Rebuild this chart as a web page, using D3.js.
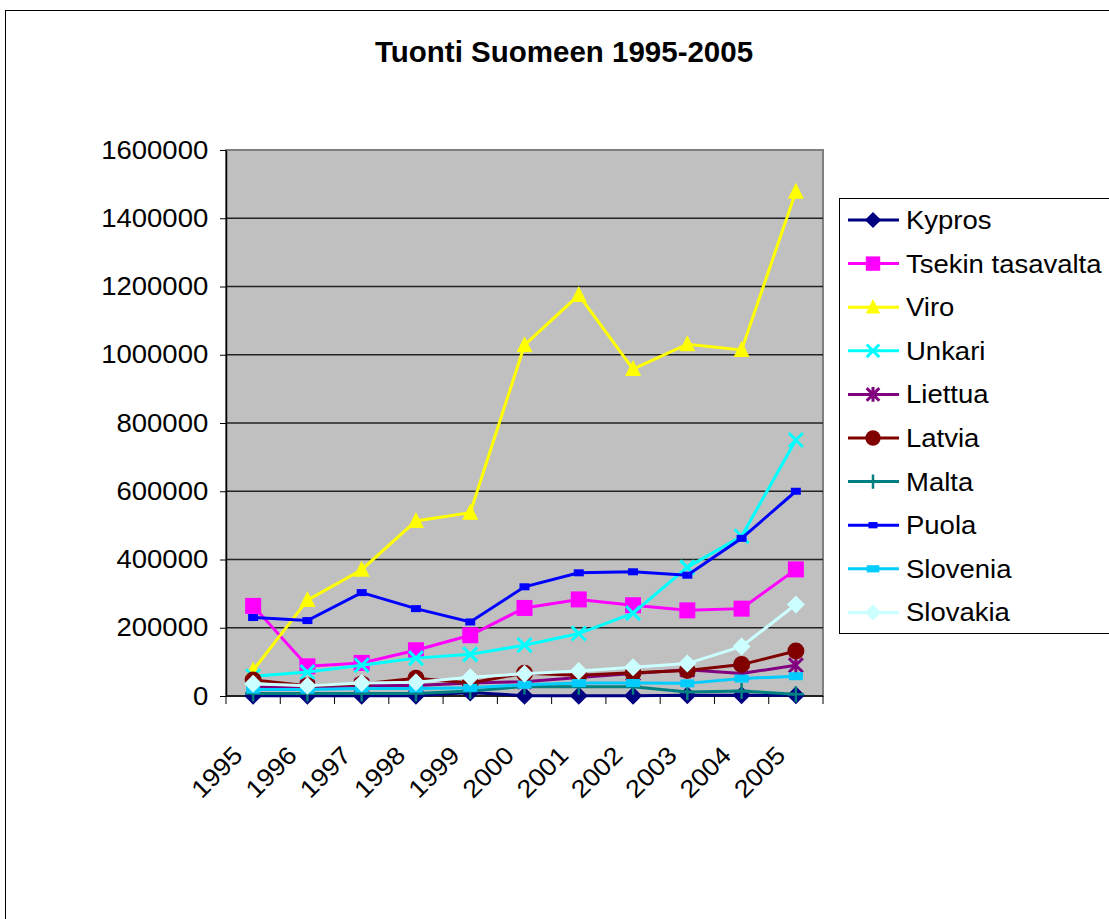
<!DOCTYPE html>
<html>
<head>
<meta charset="utf-8">
<title>Tuonti Suomeen 1995-2005</title>
<script src="https://d3js.org/d3.v7.min.js"></script>
<style>
    html, body { margin: 0; padding: 0; background: #fff; }
    svg { display: block; font-family: Arial, "Liberation Sans", sans-serif; }
</style>
</head>
<body>
<div id="chart"></div>
<script>
// data
var years = ["1995","1996","1997","1998","1999","2000","2001","2002","2003","2004","2005"];
var yTicks = [0, 200000, 400000, 600000, 800000, 1000000, 1200000, 1400000, 1600000];

var kypros   = [1000, 1000, 1000, 1000, 10000, 1000, 1000, 1000, 2000, 2000, 2000];
var tsekki   = [264000, 87000, 97000, 134000, 178000, 258000, 283000, 266000, 251000, 256000, 371000];
var viro     = [75000, 281000, 370000, 513000, 537000, 1028000, 1175000, 958000, 1031000, 1014000, 1478000];
var unkari   = [58000, 70000, 90000, 111000, 122000, 149000, 183000, 243000, 377000, 468000, 750000];
var liettua  = [26000, 26000, 31000, 31000, 38000, 42000, 54000, 66000, 77000, 66000, 90000];
var latvia   = [47000, 30000, 35000, 52000, 38000, 67000, 61000, 68000, 75000, 92000, 132000];
var malta    = [7000, 7000, 7000, 7000, 15000, 28000, 27000, 27000, 12000, 15000, 5000];
var puola    = [230000, 221000, 303000, 256000, 217000, 320000, 361000, 364000, 354000, 462000, 600000];
var slovenia = [19000, 19000, 22000, 22000, 24000, 33000, 38000, 38000, 37000, 51000, 58000];
var slovakia = [36000, 30000, 38000, 40000, 55000, 65000, 73000, 84000, 95000, 145000, 268000];

var seriesNames = ["Kypros","Tsekin tasavalta","Viro","Unkari","Liettua","Latvia","Malta","Puola","Slovenia","Slovakia"];
var seriesValues = [kypros, tsekki, viro, unkari, liettua, latvia, malta, puola, slovenia, slovakia];
var seriesColors = ["#000080","#FF00FF","#FFFF00","#00FFFF","#800080","#800000","#008080","#0000FF","#00CCFF","#CCFFFF"];
var seriesMarks  = ["diamond","square","triangle","x","star","circle","plus","dash","bar","diamond"];

var width = 1109, height = 919;
var plot = {left: 226, right: 823, top: 150, bottom: 696};

var svg = d3.select("#chart").append("svg")
    .attr("width", width)
    .attr("height", height);

svg.append("rect").attr("width", width).attr("height", height).attr("fill", "#fff");

// outer chart border
svg.append("rect")
    .attr("x", 5.5).attr("y", 10.5)
    .attr("width", width + 20).attr("height", height + 20)
    .attr("fill", "none").attr("stroke", "#000").attr("stroke-width", 1);

svg.append("text")
    .attr("x", 564).attr("y", 62)
    .attr("text-anchor", "middle")
    .attr("font-size", 29.5)
    .attr("font-weight", "bold")
    .text("Tuonti Suomeen 1995-2005");

var x = d3.scaleBand().domain(years).range([plot.left, plot.right]);
var y = d3.scaleLinear().domain([0, 1600000]).range([plot.bottom, plot.top]);

// plot area
svg.append("rect")
    .attr("x", plot.left).attr("y", plot.top)
    .attr("width", plot.right - plot.left).attr("height", plot.bottom - plot.top)
    .attr("fill", "#C0C0C0")
    .attr("stroke", "#808080").attr("stroke-width", 2);

// gridlines
svg.append("g").selectAll("line")
    .data(yTicks.filter(function(d){ return d > 0 && d < 1600000; }))
    .join("line")
    .attr("x1", plot.left).attr("x2", plot.right)
    .attr("y1", function(d){ return y(d); }).attr("y2", function(d){ return y(d); })
    .attr("stroke", "#222").attr("stroke-width", 1.5);

// y axis
var yAxis = svg.append("g")
    .attr("transform", "translate(" + plot.left + ",0)")
    .call(d3.axisLeft(y).tickValues(yTicks).tickSize(6).tickSizeOuter(0).tickPadding(12).tickFormat(d3.format("d")));
yAxis.select(".domain").attr("stroke", "#000").attr("stroke-width", 1.5);
yAxis.selectAll(".tick line").attr("stroke", "#000");
yAxis.selectAll("text")
    .attr("font-size", 25)
    .attr("fill", "#000")
    .attr("font-family", "Arial, 'Liberation Sans', sans-serif")
    .attr("transform", "translate(-20,0) scale(1.1,1) translate(20,0)");

// x axis: baseline, boundary ticks, rotated labels
svg.append("line")
    .attr("x1", plot.left).attr("x2", plot.right)
    .attr("y1", plot.bottom).attr("y2", plot.bottom)
    .attr("stroke", "#000").attr("stroke-width", 1.5);

var bounds = years.map(function(d){ return x(d); }).concat([plot.right]);
svg.append("g").selectAll("line")
    .data(bounds)
    .join("line")
    .attr("x1", function(d){ return d; }).attr("x2", function(d){ return d; })
    .attr("y1", plot.bottom).attr("y2", plot.bottom + 8)
    .attr("stroke", "#000").attr("stroke-width", 1);

svg.append("g").selectAll("text")
    .data(years)
    .join("text")
    .attr("text-anchor", "end")
    .attr("font-size", 25)
    .attr("transform", function(d){
        var cx = x(d) + x.bandwidth() / 2 - 9;
        return "translate(" + cx + "," + (plot.bottom + 61) + ") rotate(-45) scale(1.08,1)";
    })
    .text(function(d){ return d; });

// marker drawing
function drawMarker(g, type, color, size) {
    var s = size || 1;
    if (type === "diamond") {
        var d = 9 * s;
        g.append("path").attr("d", "M0," + -d + "L" + d + ",0L0," + d + "L" + -d + ",0Z")
            .attr("fill", color);
    } else if (type === "square") {
        g.append("rect").attr("x", -8 * s).attr("y", -8 * s)
            .attr("width", 16 * s).attr("height", 16 * s).attr("fill", color);
    } else if (type === "triangle") {
        g.append("path").attr("d", "M0," + (-9 * s) + "L" + (8 * s) + "," + (7 * s) + "L" + (-8 * s) + "," + (7 * s) + "Z")
            .attr("fill", color);
    } else if (type === "x") {
        var r = 7 * s;
        g.append("path").attr("d", "M" + -r + "," + -r + "L" + r + "," + r + "M" + r + "," + -r + "L" + -r + "," + r)
            .attr("stroke", color).attr("stroke-width", 3).attr("fill", "none");
    } else if (type === "star") {
        var r2 = 7 * s;
        g.append("path").attr("d", "M" + -r2 + "," + -r2 + "L" + r2 + "," + r2 + "M" + r2 + "," + -r2 + "L" + -r2 + "," + r2 + "M0," + (-r2 - 1) + "L0," + (r2 + 1))
            .attr("stroke", color).attr("stroke-width", 3).attr("fill", "none");
    } else if (type === "circle") {
        g.append("circle").attr("r", 8.5 * s).attr("fill", color);
    } else if (type === "plus") {
        var r3 = 8 * s;
        g.append("path").attr("d", "M" + -r3 + ",0L" + r3 + ",0M0," + -r3 + "L0," + r3)
            .attr("stroke", color).attr("stroke-width", 2.5).attr("fill", "none");
    } else if (type === "dash") {
        g.append("rect").attr("x", -5 * s).attr("y", -3.5 * s)
            .attr("width", 10 * s).attr("height", 7 * s).attr("fill", color);
    } else if (type === "bar") {
        g.append("rect").attr("x", -7 * s).attr("y", -4 * s)
            .attr("width", 14 * s).attr("height", 8 * s).attr("fill", color);
    }
}

var line = d3.line()
    .x(function(d, i){ return x(years[i]) + x.bandwidth() / 2; })
    .y(function(d){ return y(d); });

seriesNames.forEach(function(name, k) {
    var g = svg.append("g");
    g.append("path")
        .datum(seriesValues[k])
        .attr("d", line)
        .attr("fill", "none")
        .attr("stroke", seriesColors[k])
        .attr("stroke-width", 3);
    seriesValues[k].forEach(function(v, i) {
        var m = g.append("g")
            .attr("transform", "translate(" + (x(years[i]) + x.bandwidth() / 2) + "," + y(v) + ")");
        drawMarker(m, seriesMarks[k], seriesColors[k]);
    });
});

// legend
var legend = svg.append("g");
legend.append("rect")
    .attr("x", 839.5).attr("y", 198.5)
    .attr("width", 300).attr("height", 435)
    .attr("fill", "#fff").attr("stroke", "#000").attr("stroke-width", 1);

seriesNames.forEach(function(name, k) {
    var ly = 220 + k * 43.6;
    var item = legend.append("g");
    item.append("line")
        .attr("x1", 848).attr("x2", 899)
        .attr("y1", ly).attr("y2", ly)
        .attr("stroke", seriesColors[k]).attr("stroke-width", 3);
    var m = item.append("g").attr("transform", "translate(873," + ly + ")");
    drawMarker(m, seriesMarks[k], seriesColors[k], 0.9);
    item.append("text")
        .attr("x", 906).attr("y", ly)
        .attr("dy", "0.36em")
        .attr("font-size", 25)
        .attr("transform", "translate(906,0) scale(1.1,1) translate(-906,0)")
        .text(name);
});
</script>
</body>
</html>
